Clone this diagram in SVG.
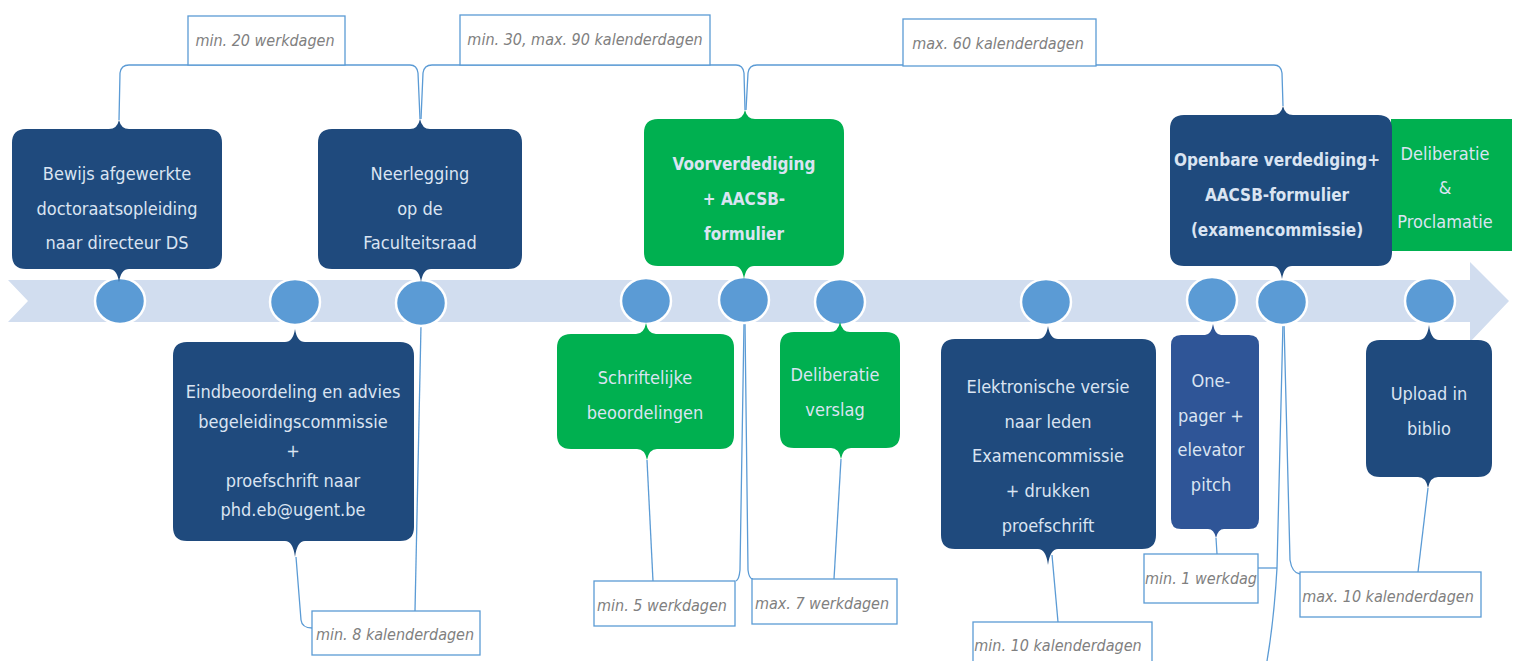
<svg xmlns="http://www.w3.org/2000/svg" width="1518" height="661" viewBox="0 0 1518 661">
<style>
.t{font-family:'DejaVu Sans Condensed','DejaVu Sans',sans-serif;font-stretch:condensed;font-size:18px;fill:#DAE4F2;text-anchor:middle}
.b{font-weight:bold;font-size:17px}
.lbl{font-family:'DejaVu Sans Condensed','DejaVu Sans',sans-serif;font-stretch:condensed;font-style:italic;font-size:16px;fill:#808080;text-anchor:middle}
.dk{fill:#1F4A7D}
.gr{fill:#00B050}
.md{fill:#2F5597}
.lb{fill:#FFFFFF;stroke:#5B9BD5;stroke-width:1.3}
.c{fill:none;stroke:#5B9BD5;stroke-width:1.3}
.dot{fill:#5B9BD5;stroke:#FFFFFF;stroke-width:2.5}
</style>
<polygon id="band" points="8,280 1470,280 1470,262 1509,301 1470,342 1470,322 8,322 28,301" fill="#D1DDEF"/>
<g id="connectors">
<path class="c" d="M119,120 L120,73 Q121,65 129,65 L410,65 Q417,65 418,73 L420,119"/>
<path class="c" d="M421,119 L423,73 Q424,65 432,65 L736,65 Q743,65 744,73 L745,110"/>
<path class="c" d="M746,110 L748,73 Q749,65 757,65 L1274,65 Q1281,65 1282,73 L1283,106"/>
<path class="c" d="M296,557 L301,620 Q302,628 312,628"/>
<path class="c" d="M421,325 L415,611"/>
<path class="c" d="M647,460 L653,581"/>
<path class="c" d="M744,323 L740,570 Q739,580 736,581"/>
<path class="c" d="M745,323 L748,570 Q749,579 753,579"/>
<path class="c" d="M841,459 L834,579"/>
<path class="c" d="M1052,555 L1058,622"/>
<path class="c" d="M1216,538 L1217,554"/>
<path class="c" d="M1283,322 L1277,568 Q1274,620 1267,661"/>
<path class="c" d="M1258,568 L1277,568"/>
<path class="c" d="M1284,322 L1290,560 Q1292,573 1300,574"/>
<path class="c" d="M1428,488 L1418,572"/>
</g>
<g id="dots">
<ellipse class="dot" cx="120" cy="301" rx="25" ry="23"/>
<ellipse class="dot" cx="295" cy="302" rx="25" ry="23"/>
<ellipse class="dot" cx="421" cy="303" rx="25" ry="23"/>
<ellipse class="dot" cx="646" cy="301" rx="25" ry="23"/>
<ellipse class="dot" cx="744" cy="300" rx="25" ry="23"/>
<ellipse class="dot" cx="840" cy="302" rx="25" ry="23"/>
<ellipse class="dot" cx="1046" cy="302" rx="25" ry="23"/>
<ellipse class="dot" cx="1212" cy="300" rx="25" ry="23"/>
<ellipse class="dot" cx="1282" cy="302" rx="25" ry="23"/>
<ellipse class="dot" cx="1430" cy="301" rx="25" ry="23"/>
</g>
<g id="n-bewijs">
<path class="dk" d="M26,129 L109,129 Q117,129 119,120 Q121,129 129,129 L208,129 Q222,129 222,143 L222,255 Q222,269 208,269 L129,269 Q121,269 119,282 Q117,269 109,269 L26,269 Q12,269 12,255 L12,143 Q12,129 26,129 Z"/>
<text class="t" x="117" y="180">Bewijs afgewerkte</text>
<text class="t" x="117" y="215">doctoraatsopleiding</text>
<text class="t" x="117" y="249">naar directeur DS</text>
</g>
<g id="n-neerlegging">
<path class="dk" d="M332,129 L410,129 Q418,129 420,119 Q422,129 430,129 L508,129 Q522,129 522,143 L522,255 Q522,269 508,269 L431,269 Q423,269 421,282 Q419,269 411,269 L332,269 Q318,269 318,255 L318,143 Q318,129 332,129 Z"/>
<text class="t" x="420" y="180">Neerlegging</text>
<text class="t" x="420" y="215">op de</text>
<text class="t" x="420" y="249">Faculteitsraad</text>
</g>
<g id="n-voorverdediging">
<path class="gr" d="M658,119 L735,119 Q743,119 745,110 Q747,119 755,119 L830,119 Q844,119 844,133 L844,252 Q844,266 830,266 L754,266 Q746,266 744,279 Q742,266 734,266 L658,266 Q644,266 644,252 L644,133 Q644,119 658,119 Z"/>
<text class="t b" x="744" y="170">Voorverdediging</text>
<text class="t b" x="744" y="205">+ AACSB-</text>
<text class="t b" x="744" y="240">formulier</text>
</g>
<g id="n-deliberatie-proclamatie">
<rect class="gr" x="1391" y="119" width="121" height="132"/>
<text class="t" x="1445" y="160">Deliberatie</text>
<text class="t" x="1445" y="194">&amp;</text>
<text class="t" x="1445" y="228">Proclamatie</text>
</g>
<g id="n-openbare">
<path class="dk" d="M1184,115 L1273,115 Q1281,115 1283,106 Q1285,115 1293,115 L1378,115 Q1392,115 1392,129 L1392,252 Q1392,266 1378,266 L1292,266 Q1284,266 1282,279 Q1280,266 1272,266 L1184,266 Q1170,266 1170,252 L1170,129 Q1170,115 1184,115 Z"/>
<text class="t b" x="1277" y="166">Openbare verdediging+</text>
<text class="t b" x="1277" y="201">AACSB-formulier</text>
<text class="t b" x="1277" y="236">(examencommissie)</text>
</g>
<g id="n-eindbeoordeling">
<path class="dk" d="M187,342 L285,342 Q293,342 295,329 Q297,342 305,342 L400,342 Q414,342 414,356 L414,527 Q414,541 400,541 L305,541 Q297,541 295,557 Q293,541 285,541 L187,541 Q173,541 173,527 L173,356 Q173,342 187,342 Z"/>
<text class="t" x="293" y="398">Eindbeoordeling en advies</text>
<text class="t" x="293" y="428">begeleidingscommissie</text>
<text class="t" x="293" y="457">+</text>
<text class="t" x="293" y="487">proefschrift naar</text>
<text class="t" x="293" y="516">phd.eb@ugent.be</text>
</g>
<g id="n-schriftelijke">
<path class="gr" d="M571,334 L636,334 Q644,334 646,323 Q648,334 656,334 L720,334 Q734,334 734,348 L734,435 Q734,449 720,449 L657,449 Q649,449 647,460 Q645,449 637,449 L571,449 Q557,449 557,435 L557,348 Q557,334 571,334 Z"/>
<text class="t" x="645" y="384">Schriftelijke</text>
<text class="t" x="645" y="419">beoordelingen</text>
</g>
<g id="n-deliberatie-verslag">
<path class="gr" d="M794,332 L830,332 Q838,332 840,322 Q842,332 850,332 L886,332 Q900,332 900,346 L900,434 Q900,448 886,448 L851,448 Q843,448 841,459 Q839,448 831,448 L794,448 Q780,448 780,434 L780,346 Q780,332 794,332 Z"/>
<text class="t" x="835" y="381">Deliberatie</text>
<text class="t" x="835" y="416">verslag</text>
</g>
<g id="n-elektronische">
<path class="dk" d="M955,339 L1038,339 Q1046,339 1048,326 Q1050,339 1058,339 L1142,339 Q1156,339 1156,353 L1156,535 Q1156,549 1142,549 L1058,549 Q1050,549 1048,565 Q1046,549 1038,549 L955,549 Q941,549 941,535 L941,353 Q941,339 955,339 Z"/>
<text class="t" x="1048" y="393">Elektronische versie</text>
<text class="t" x="1048" y="428">naar leden</text>
<text class="t" x="1048" y="462">Examencommissie</text>
<text class="t" x="1048" y="497">+ drukken</text>
<text class="t" x="1048" y="532">proefschrift</text>
</g>
<g id="n-onepager">
<path class="md" d="M1181,335 L1205,335 Q1211,335 1213,324 Q1215,335 1221,335 L1249,335 Q1259,335 1259,345 L1259,519 Q1259,529 1249,529 L1224,529 Q1218,529 1216,538 Q1214,529 1208,529 L1181,529 Q1171,529 1171,519 L1171,345 Q1171,335 1181,335 Z"/>
<text class="t" x="1211" y="387">One-</text>
<text class="t" x="1211" y="422">pager +</text>
<text class="t" x="1211" y="456">elevator</text>
<text class="t" x="1211" y="491">pitch</text>
</g>
<g id="n-upload">
<path class="dk" d="M1380,340 L1419,340 Q1427,340 1429,325 Q1431,340 1439,340 L1478,340 Q1492,340 1492,354 L1492,463 Q1492,477 1478,477 L1438,477 Q1430,477 1428,488 Q1426,477 1418,477 L1380,477 Q1366,477 1366,463 L1366,354 Q1366,340 1380,340 Z"/>
<text class="t" x="1429" y="400">Upload in</text>
<text class="t" x="1429" y="435">biblio</text>
</g>
<g id="labels">
<g id="l1"><rect class="lb" x="188" y="16" width="157" height="49"/><text class="lbl" x="265" y="46">min. 20 werkdagen</text></g>
<g id="l2"><rect class="lb" x="460" y="15" width="250" height="50"/><text class="lbl" x="585" y="45">min. 30, max. 90 kalenderdagen</text></g>
<g id="l3"><rect class="lb" x="903" y="19" width="193" height="47"/><text class="lbl" x="998" y="49">max. 60 kalenderdagen</text></g>
<g id="l4"><rect class="lb" x="312" y="611" width="168" height="44"/><text class="lbl" x="395" y="640">min. 8 kalenderdagen</text></g>
<g id="l5"><rect class="lb" x="594" y="581" width="141" height="45"/><text class="lbl" x="662" y="611">min. 5 werkdagen</text></g>
<g id="l6"><rect class="lb" x="752" y="579" width="145" height="45"/><text class="lbl" x="822" y="609">max. 7 werkdagen</text></g>
<g id="l7"><rect class="lb" x="973" y="622" width="179" height="45"/><text class="lbl" x="1058" y="651">min. 10 kalenderdagen</text></g>
<g id="l8"><rect class="lb" x="1144" y="554" width="114" height="49"/><text class="lbl" x="1201" y="584">min. 1 werkdag</text></g>
<g id="l9"><rect class="lb" x="1300" y="572" width="181" height="45"/><text class="lbl" x="1388" y="602">max. 10 kalenderdagen</text></g>
</g>
</svg>
